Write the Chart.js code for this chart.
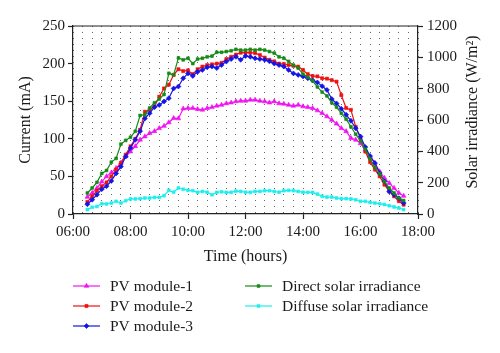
<!DOCTYPE html>
<html><head><meta charset="utf-8">
<script src="https://cdn.jsdelivr.net/npm/chart.js@4.4.0/dist/chart.umd.min.js"></script>
<style>html,body{margin:0;padding:0;background:#fff;}canvas{display:block;}</style>
</head><body>
<canvas id="c" width="500" height="353"></canvas>
<script>
const times = [
"06:30","06:40","06:50","07:00","07:10","07:20","07:30","07:40","07:50","08:00",
"08:10","08:20","08:30","08:40","08:50","09:00","09:10","09:20","09:30","09:40",
"09:50","10:00","10:10","10:20","10:30","10:40","10:50","11:00","11:10","11:20",
"11:30","11:40","11:50","12:00",
"12:10","12:20","12:30","12:40","12:50","13:00","13:10","13:20","13:30","13:40",
"13:50","14:00","14:10","14:20","14:30","14:40","14:50","15:00","15:10","15:20",
"15:30","15:40","15:50","16:00","16:10","16:20","16:30","16:40","16:50","17:00",
"17:10","17:20","17:30"];

// Current (mA)
const pvModule1 = [22.6,28,34.5,43,50,55,61,68,76.5,83, 90,98.7,103,107.5,110,114,117,121.7,127.4,127,
 140,140.7,140.7,139.4,138.5,140.7,142,143.8,145,147, 148,149.6,150.4,150.4,
 151.8,151.8,150.4,149.6,148,149.6,147,146.5,145,143.8, 145,143,142,140.7,137.6,134,129.7,125,120,114,
 110,101,98.7,94,85.4,76.5,67.7,56.6,47.8,41, 34.5,28,24];
const pvModule2 = [16,23.5,31,37,42,50,59,68,79,90, 100,112,136,138.5,143,156,167,172,185,192.5,
 190,191,186,192.5,196,198,199,200,201,206, 209,212,214.5,214.5,
 214.5,214,211.5,208,205,203,200,199.5,198,197, 196,191.5,186,183.5,183,180.5,180,178,176,158,
 141,138.5,116,101,83,69,59,50,39,30, 23.5,17,12.4];
const pvModule3 = [13,19,25.7,33,37,44,54,63,76.5,87.6, 98.7,110,127,134,142,145,149.6,154,167,169.5,
 180.5,187,183.6,189,191.6,195,196,194,198,202.7, 206,209,205,210,
 209,207,206,205,203,200,198,196,191.6,187, 185,183,180.5,178,175,170,165,153,147,140,
 132,124,114,103,89,77,67.7,54.4,43.4,30, 25.7,21,14.6];
// Irradiance (W/m2)
const directIrr = [134,166,202,259,278,331,355,446,470,490, 528,629,634,677,710,734,763,898,888,996,
 984,994,960,989,994,1003,1008,1032,1032,1037, 1042,1051,1046,1046,
 1051,1046,1051,1046,1037,1027,1003,994,974,950, 931,893,874,850,811,778,754,710,682,643,
 605,557,509,466,413,352,298,257,206,166, 134,101,86];
const diffuseIrr = [28,43,48,66,64,70,81,70,85,96, 96,98,102,102,106,106,117,151,139,166,
 158,151,149,138,144,139,123,138,142,138, 138,146,144,139,
 138,144,144,149,149,144,139,149,151,149, 144,139,138,138,127,113,108,108,102,98,
 98,96,91,81,81,74,70,66,60,53, 45,38,28];

const xTickLabels = ["06:00","08:00","10:00","12:00","14:00","16:00","18:00"];
const leftTicks = [0,50,100,150,200,250];
const rightTicks = [0,200,400,600,800,1000,1200];
const seriesNames = ["PV module-1","PV module-2","PV module-3","Direct solar irradiance","Diffuse solar irradiance"];

const FONT = "'Liberation Serif','Times New Roman',serif";
const TXT = '#1a1a1a';
function toMin(s){const p=s.split(':');return (+p[0])*60+(+p[1]);}
const pts = arr => arr.map((v,i)=>({x:toMin(times[i]), y:v}));

function ds(label, data, color, style, r, axis, order){
  return {label, data: pts(data), borderColor: color, backgroundColor: color,
    borderWidth: 1.2, pointStyle: style, pointRadius: r, pointBorderWidth: 0.6,
    pointBorderColor: color, tension: 0, yAxisID: axis, order, fill:false};
}
const datasets = [
  ds(seriesNames[0], pvModule1, '#f015f0', 'triangle', 2.7, 'y', 3),
  ds(seriesNames[1], pvModule2, '#f01010', 'rect', 2.2, 'y', 2),
  ds(seriesNames[2], pvModule3, '#1414e6', 'rectRot', 2.5, 'y', 1),
  ds(seriesNames[3], directIrr, '#168a16', 'rect', 2.0, 'y1', 0),
  ds(seriesNames[4], diffuseIrr, '#1eeeee', 'rect', 2.0, 'y1', 4)
];

const legendPos = [[73,286],[73,306],[73,326],[245,286],[245,306]];
const extras = {
  id:'extras',
  afterDraw(chart){
    const ctx = chart.ctx, a = chart.chartArea;
    ctx.save();
    ctx.strokeStyle = '#222'; ctx.lineWidth = 1.2;
    ctx.beginPath(); ctx.moveTo(a.left, a.top); ctx.lineTo(a.right, a.top); ctx.stroke();
    ctx.fillStyle = TXT; ctx.font = '16px ' + FONT;
    ctx.translate(473, 112); ctx.rotate(-Math.PI/2);
    ctx.textAlign = 'center'; ctx.textBaseline = 'middle';
    ctx.fillText('Solar irradiance (W/m\u00B2)', 0, 0);
    ctx.restore();
    ctx.save();
    chart.data.datasets.forEach((d,i)=>{
      const [x,y] = legendPos[i];
      ctx.strokeStyle = d.borderColor; ctx.fillStyle = d.borderColor; ctx.lineWidth = 1.2;
      ctx.beginPath(); ctx.moveTo(x, y); ctx.lineTo(x+27, y); ctx.stroke();
      ctx.lineWidth = 0.6;
      Chart.helpers.drawPoint(ctx, {pointStyle: d.pointStyle, radius: d.pointRadius, borderWidth: 0.6}, x+13.5, y);
      ctx.fillStyle = TXT; ctx.font = '15.5px ' + FONT;
      ctx.textAlign = 'left'; ctx.textBaseline = 'middle';
      ctx.fillText(d.label, x+37, y+1);
    });
    ctx.restore();
  }
};

new Chart(document.getElementById('c'), {
  type: 'line',
  data: { datasets },
  options: {
    responsive: false, animation: false, devicePixelRatio: 1,
    layout: { padding: { top: 26, left: 0, right: 0, bottom: 87 } },
    plugins: { legend: { display: false }, tooltip: { enabled: false } },
    scales: {
      x: {
        type: 'linear', min: 360, max: 1080,
        afterFit(s){ s.height = 52; },
        ticks: { stepSize: 20, autoSkip: false, maxRotation: 0, padding: 4,
          color: TXT, font: { family: FONT, size: 15 },
          callback: v => (v % 120 === 0) ? xTickLabels[(v-360)/120] : '' },
        grid: { drawOnChartArea: true, color: '#666', lineWidth: 1,
          tickBorderDash: [], tickLength: 5, tickWidth: 1.2,
          tickColor: c => (c.tick && c.tick.value % 120 === 0) ? '#222' : 'rgba(0,0,0,0)' },
        border: { color: '#222', width: 1.2, dash: [1,5] },
        title: { display: true, text: 'Time (hours)', color: TXT,
          font: { family: FONT, size: 16 }, padding: { top: 0, bottom: 0 } }
      },
      y: {
        position: 'left', min: 0, max: 250,
        afterFit(s){ s.width = 73; },
        afterBuildTicks(s){ s.ticks = leftTicks.map(v=>({value:v})); },
        ticks: { color: TXT, font: { family: FONT, size: 15 }, padding: 3, callback: v => String(v) },
        grid: { drawOnChartArea: false, tickLength: 5, tickColor: '#222', tickWidth: 1.2 },
        border: { color: '#222', width: 1.2 },
        title: { display: true, text: 'Current (mA)', color: TXT,
          font: { family: FONT, size: 16 }, padding: { top: 16, bottom: 0 } }
      },
      y1: {
        position: 'right', min: 0, max: 1200,
        afterFit(s){ s.width = 82; },
        afterBuildTicks(s){ s.ticks = rightTicks.map(v=>({value:v})); },
        ticks: { color: TXT, font: { family: FONT, size: 15 }, padding: 4, callback: v => String(v) },
        grid: { drawOnChartArea: false, tickLength: 5, tickColor: '#222', tickWidth: 1.2 },
        border: { color: '#222', width: 1.2 }
      }
    }
  },
  plugins: [extras]
});
</script>
</body></html>
